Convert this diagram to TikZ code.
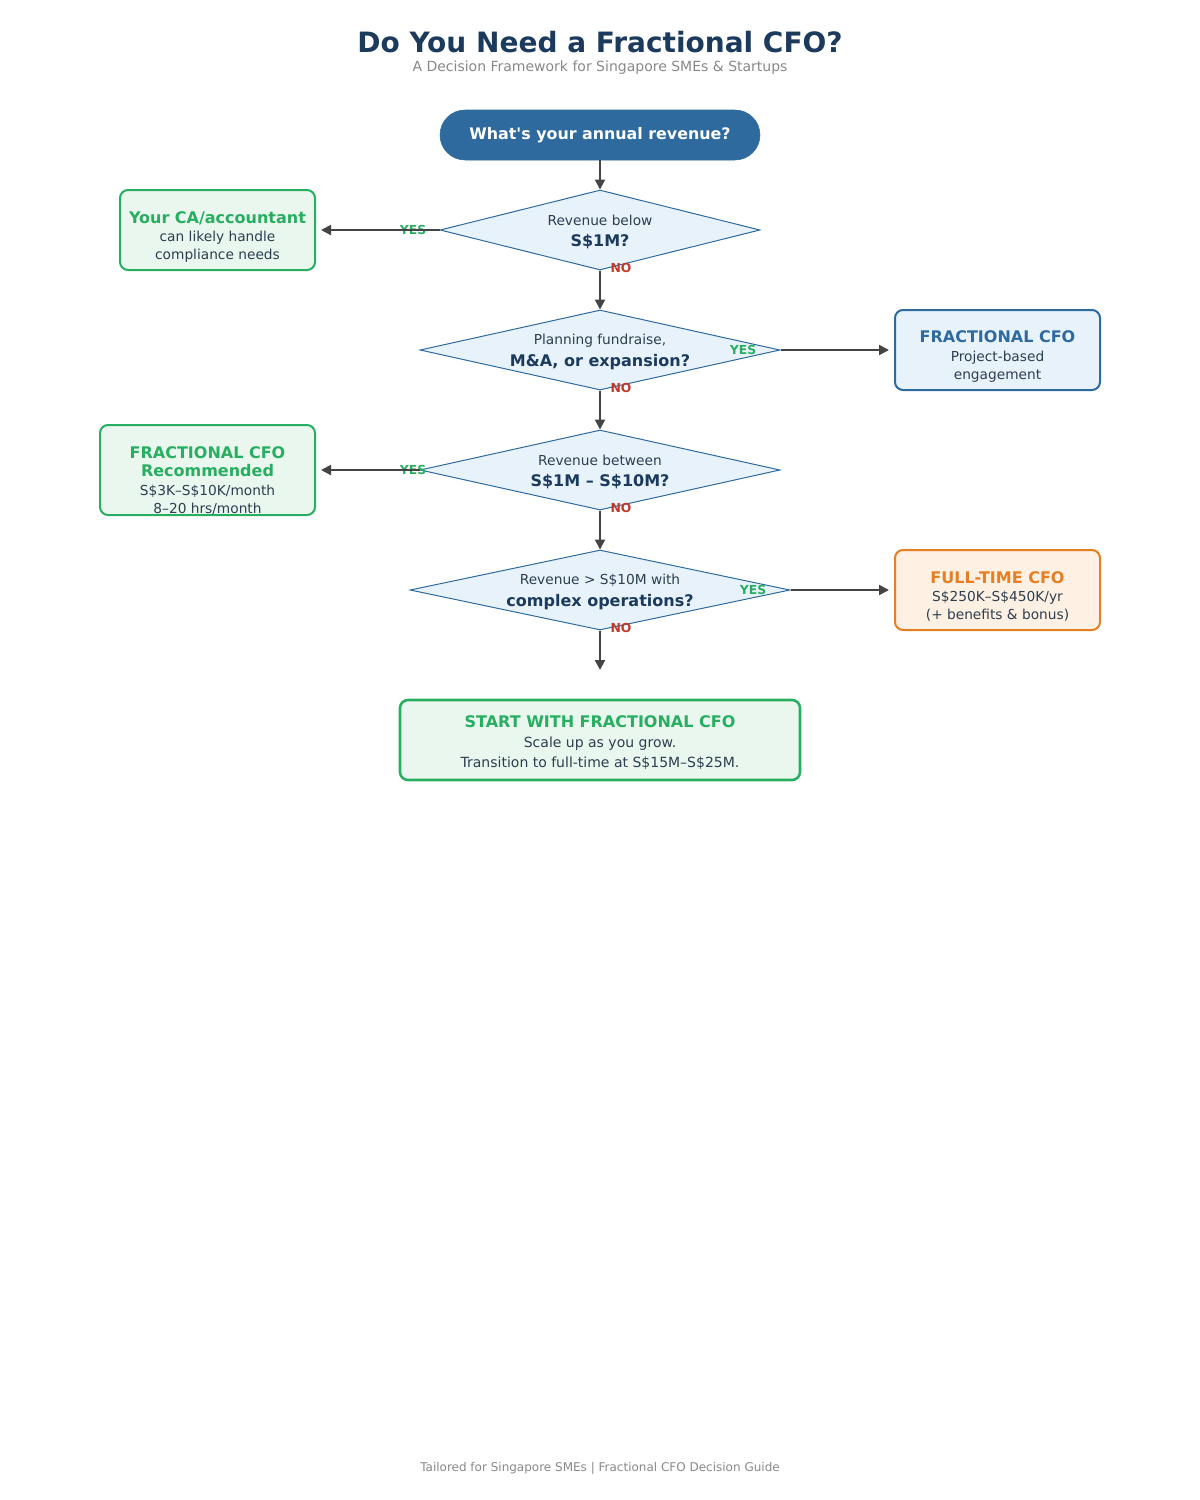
\documentclass[tikz,border=0pt]{standalone}
\usepackage{fontspec}
\setmainfont{DejaVu Sans}[Ligatures=TeXOff]
\usetikzlibrary{arrows.meta,shapes.geometric}
\definecolor{navyc}{RGB}{27,58,92}
\definecolor{darktxt}{RGB}{44,62,80}
\definecolor{bluec}{RGB}{46,106,158}
\definecolor{diafill}{RGB}{232,242,251}
\definecolor{greenc}{RGB}{39,174,96}
\definecolor{greenfill}{RGB}{234,247,238}
\definecolor{orangec}{RGB}{230,126,34}
\definecolor{orangefill}{RGB}{254,241,227}
\definecolor{redc}{RGB}{192,57,43}
\definecolor{grayc}{RGB}{136,136,136}
\definecolor{arrowc}{RGB}{68,68,68}
\newcommand\myfs[2]{\fontsize{#1}{#2}\selectfont}
\begin{document}
\begin{tikzpicture}[x=0.75pt,y=-0.75pt,
  flow/.style={draw=arrowc, line width=1.5pt, -{Triangle[length=7.5pt,width=7.5pt]}},
  dia/.style={diamond, draw=bluec, line width=0.75pt, fill=diafill, inner sep=0pt},
  box/.style={rectangle, rounded corners=6pt, line width=1.5pt, inner sep=0pt},
  gbox/.style={box, draw=greenc, fill=greenfill},
  bbox/.style={box, draw=bluec, fill=diafill},
  obox/.style={box, draw=orangec, fill=orangefill},
  txt/.style={align=center, inner sep=0pt, text=darktxt, font=\myfs{10.3}{13.8}},
  yeslbl/.style={inner sep=0pt, text=greenc, font=\bfseries\myfs{9.3}{10}},
  nolbl/.style={inner sep=0pt, text=redc, font=\bfseries\myfs{9.3}{10}},
]
\useasboundingbox (0,0) rectangle (1200,1500);

% titles
\node[inner sep=0pt, text=navyc, font=\bfseries\myfs{21}{24}] (title) at (600,42) {Do You Need a Fractional CFO?};
\node[inner sep=0pt, text=grayc, font=\myfs{10.5}{12}] (subtitle) at (600,68) {A Decision Framework for Singapore SMEs \& Startups};

% start
\node[rectangle, rounded corners=18.75pt, fill=bluec, draw=bluec, minimum width=240pt, minimum height=37.5pt, text=white, font=\bfseries\myfs{11.9}{14}] (start) at (600,135) {What's your annual revenue?};

% diamonds
\node[dia, minimum width=240pt, minimum height=60pt] (d1) at (600,230) {};
\node[txt] (d1t) at (600,232) {Revenue below\\[2.5pt]{\bfseries\myfs{12}{15}\color{navyc}S\$1M?}};
\node[dia, minimum width=270pt, minimum height=60pt] (d2) at (600,350) {};
\node[txt] (d2t) at (600,352) {Planning fundraise,\\[2.5pt]{\bfseries\myfs{12}{15}\color{navyc}M\&A, or expansion?}};
\node[dia, minimum width=270pt, minimum height=60pt] (d3) at (600,470) {};
\node[txt] (d3t) at (600,472) {Revenue between\\[2.5pt]{\bfseries\myfs{12}{15}\color{navyc}S\$1M – S\$10M?}};
\node[dia, minimum width=285pt, minimum height=60pt] (d4) at (600,590) {};
\node[txt] (d4t) at (600,592) {Revenue > S\$10M with\\[2.5pt]{\bfseries\myfs{12}{15}\color{navyc}complex operations?}};

% outcome boxes
\node[gbox, minimum width=146.25pt, minimum height=60pt] (b1) at (217.5,230) {};
\node[txt] (b1t) at (217.5,237) {{\bfseries\myfs{12}{14}\color{greenc}Your CA/accountant}\\can likely handle\\compliance needs};
\node[bbox, minimum width=153.75pt, minimum height=60pt] (b2) at (997.5,350) {};
\node[txt] (b2t) at (997.5,356.5) {{\bfseries\myfs{12}{14}\color{bluec}FRACTIONAL CFO}\\Project-based\\engagement};
\node[gbox, minimum width=161.25pt, minimum height=67.5pt] (b3) at (207.5,470) {};
\node[txt] (b3t) at (207.5,480.5) {{\bfseries\myfs{12}{15}\color{greenc}FRACTIONAL CFO}\\{\bfseries\myfs{12}{15}\color{greenc}Recommended}\\S\$3K–S\$10K/month\\8–20 hrs/month};
\node[obox, minimum width=153.75pt, minimum height=60pt] (b4) at (997.5,590) {};
\node[txt] (b4t) at (997.5,596.5) {{\bfseries\myfs{12}{14}\color{orangec}FULL-TIME CFO}\\S\$250K–S\$450K/yr\\(+ benefits \& bonus)};
\node[gbox, line width=1.9pt, minimum width=300pt, minimum height=60pt] (b5) at (600,740) {};
\node[txt, font=\myfs{10.5}{15.2}] (b5t) at (600,742.5) {{\bfseries\myfs{12}{16}\color{greenc}START WITH FRACTIONAL CFO}\\Scale up as you grow.\\Transition to full-time at S\$15M–S\$25M.};

\coordinate (endpt) at (600,670);

% labels
\node[yeslbl] (y1) at (413,230) {YES};
\node[nolbl] (n1) at (621,268) {NO};
\node[yeslbl] (y2) at (743,350) {YES};
\node[nolbl] (n2) at (621,388) {NO};
\node[yeslbl] (y3) at (413,470) {YES};
\node[nolbl] (n3) at (621,508) {NO};
\node[yeslbl] (y4) at (753,590) {YES};
\node[nolbl] (n4) at (621,628) {NO};

% connectors
\draw[flow] (start) -- (d1);
\draw[flow, shorten >=3.75pt] (d1.west) -- (b1.east);
\draw[flow] (d1) -- (d2);
\draw[flow, shorten >=3.75pt] (d2.east) -- (b2.west);
\draw[flow] (d2) -- (d3);
\draw[flow, shorten >=3.75pt] (d3.west) -- (b3.east);
\draw[flow] (d3) -- (d4);
\draw[flow, shorten >=3.75pt] (d4.east) -- (b4.west);
\draw[flow] (d4.south) -- (endpt);

% footer
\node[inner sep=0pt, text=grayc, font=\myfs{9}{10}] (footer) at (600,1468) {Tailored for Singapore SMEs | Fractional CFO Decision Guide};
\end{tikzpicture}
\end{document}
